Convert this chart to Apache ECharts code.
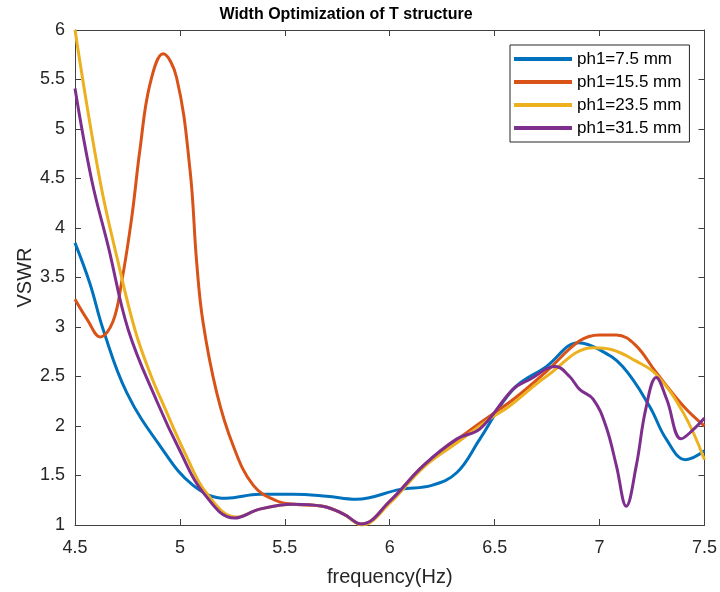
<!DOCTYPE html>
<html>
<head>
<meta charset="utf-8">
<script src="https://cdn.jsdelivr.net/npm/echarts@6/dist/echarts.min.js"></script>
<style>html,body{margin:0;padding:0;background:#fff;}#c{width:720px;height:592px;}</style>
</head>
<body>
<div id="c"></div>
<script>
// ---- data ----
const seriesNames = ['ph1=7.5 mm', 'ph1=15.5 mm', 'ph1=23.5 mm', 'ph1=31.5 mm'];
const xTicks = [4.5, 5, 5.5, 6, 6.5, 7, 7.5];
const yTicks = [1, 1.5, 2, 2.5, 3, 3.5, 4, 4.5, 5, 5.5, 6];

const blueX = [4.5, 4.571, 4.635, 4.746, 4.905, 5.063, 5.22, 5.38, 5.54, 5.7, 5.84, 6.05, 6.2, 6.32, 6.43, 6.587, 6.746, 6.9, 7.0, 7.11, 7.238, 7.317, 7.41, 7.5];
const blueY = [3.85, 3.44, 2.97, 2.34, 1.80, 1.40, 1.27, 1.31, 1.31, 1.29, 1.26, 1.36, 1.40, 1.53, 1.87, 2.37, 2.60, 2.84, 2.77, 2.60, 2.20, 1.87, 1.66, 1.75];

const orangeX = [4.5, 4.56, 4.62, 4.68, 4.722, 4.77, 4.81, 4.857, 4.92, 4.984, 5.048, 5.08, 5.11, 5.175, 5.254, 5.35, 5.46, 5.54, 5.68, 5.78, 5.865, 6.0, 6.16, 6.32, 6.476, 6.59, 6.746, 6.905, 7.0, 7.08, 7.17, 7.27, 7.4, 7.5];
const orangeY = [3.28, 3.07, 2.90, 3.05, 3.45, 4.10, 4.80, 5.45, 5.76, 5.52, 4.59, 3.65, 3.05, 2.34, 1.80, 1.40, 1.245, 1.21, 1.19, 1.11, 1.01, 1.24, 1.60, 1.86, 2.10, 2.27, 2.55, 2.86, 2.92, 2.92, 2.82, 2.54, 2.20, 2.0];

const yellowX = [4.5, 4.619, 4.706, 4.786, 4.86, 4.92, 5.03, 5.127, 5.27, 5.38, 5.54, 5.68, 5.78, 5.865, 6.0, 6.16, 6.32, 6.476, 6.57, 6.746, 6.97, 7.06, 7.17, 7.27, 7.40, 7.5];
const yellowY = [6.0, 4.48, 3.65, 2.97, 2.52, 2.22, 1.70, 1.32, 1.08, 1.16, 1.21, 1.19, 1.11, 1.0, 1.22, 1.58, 1.83, 2.07, 2.20, 2.50, 2.79, 2.77, 2.66, 2.52, 2.13, 1.66];

const purpleX = [4.5, 4.58, 4.659, 4.754, 4.89, 5.0, 5.11, 5.26, 5.38, 5.54, 5.68, 5.78, 5.865, 6.0, 6.16, 6.32, 6.43, 6.587, 6.667, 6.79, 6.857, 6.905, 6.97, 7.03, 7.08, 7.127, 7.175, 7.22, 7.27, 7.32, 7.389, 7.44, 7.5];
const purpleY = [5.41, 4.48, 3.81, 2.97, 2.25, 1.75, 1.33, 1.07, 1.16, 1.21, 1.19, 1.11, 1.01, 1.24, 1.60, 1.87, 1.97, 2.37, 2.47, 2.60, 2.50, 2.37, 2.27, 2.0, 1.60, 1.19, 1.60, 2.17, 2.49, 2.27, 1.87, 1.95, 2.08];

const colors = ['#0072BD', '#D95319', '#EDB120', '#7E2F8E'];
// ---- build ----
const xs = [blueX, orangeX, yellowX, purpleX];
const ys = [blueY, orangeY, yellowY, purpleY];
const FONT = 'Liberation Sans, Arial, Helvetica, sans-serif';
const axisCol = '#404040';
const textCol = '#262626';

function pairs(x, y) { return x.map((v, i) => [v, y[i]]); }

const xMin = xTicks[0], xMax = xTicks[xTicks.length - 1], xInt = xTicks[1] - xTicks[0];
const yMin = yTicks[0], yMax = yTicks[yTicks.length - 1], yInt = yTicks[1] - yTicks[0];

function axisBase(min, max, interval) {
  return {
    type: 'value', min: min, max: max, interval: interval,
    splitLine: { show: false },
    axisLine: { show: true, onZero: false, lineStyle: { color: axisCol, width: 1 } },
    axisTick: { show: true, inside: true, length: 6, lineStyle: { color: axisCol } },
  };
}

const chart = echarts.init(document.getElementById('c'), null, { renderer: 'canvas' });
chart.setOption({
  animation: false,
  backgroundColor: '#fff',
  textStyle: { fontFamily: FONT },
  title: {
    text: 'Width Optimization of T structure',
    left: 346, textAlign: 'center', top: 7, padding: 0,
    textStyle: { fontFamily: FONT, fontSize: 16, fontWeight: 'bold', color: '#000' }
  },
  grid: { left: 75, right: 15, top: 30, bottom: 66 },
  legend: {
    data: seriesNames,
    orient: 'vertical',
    left: 510, top: 45,
    padding: [5, 8, 5, 4],
    itemWidth: 58, itemHeight: 4, itemGap: 5,
    icon: 'rect',
    backgroundColor: '#fff',
    borderColor: '#262626', borderWidth: 1, borderRadius: 0,
    textStyle: { fontFamily: FONT, fontSize: 17, lineHeight: 18, color: '#000' }
  },
  xAxis: [
    Object.assign(axisBase(xMin, xMax, xInt), {
      position: 'bottom',
      name: 'frequency(Hz)', nameLocation: 'middle', nameGap: 42, nameMoveOverlap: false,
      nameTextStyle: { fontFamily: FONT, fontSize: 20, color: textCol },
      axisLabel: { show: true, fontFamily: FONT, fontSize: 18, color: textCol, margin: 14 }
    }),
    Object.assign(axisBase(xMin, xMax, xInt), {
      position: 'top', axisLabel: { show: false }
    })
  ],
  yAxis: [
    Object.assign(axisBase(yMin, yMax, yInt), {
      position: 'left',
      name: 'VSWR', nameLocation: 'middle', nameGap: 40, nameMoveOverlap: false,
      nameTextStyle: { fontFamily: FONT, fontSize: 20, color: textCol },
      axisLabel: { show: true, fontFamily: FONT, fontSize: 18, color: textCol, margin: 10 }
    }),
    Object.assign(axisBase(yMin, yMax, yInt), {
      position: 'right', axisLabel: { show: false }
    })
  ],
  series: seriesNames.map((n, i) => ({
    name: n, type: 'line', xAxisIndex: 0, yAxisIndex: 0,
    data: pairs(xs[i], ys[i]),
    smooth: 0.4, showSymbol: false, symbol: 'none',
    color: colors[i],
    lineStyle: { width: 3, color: colors[i] },
    clip: true
  }))
});
</script>
</body>
</html>
